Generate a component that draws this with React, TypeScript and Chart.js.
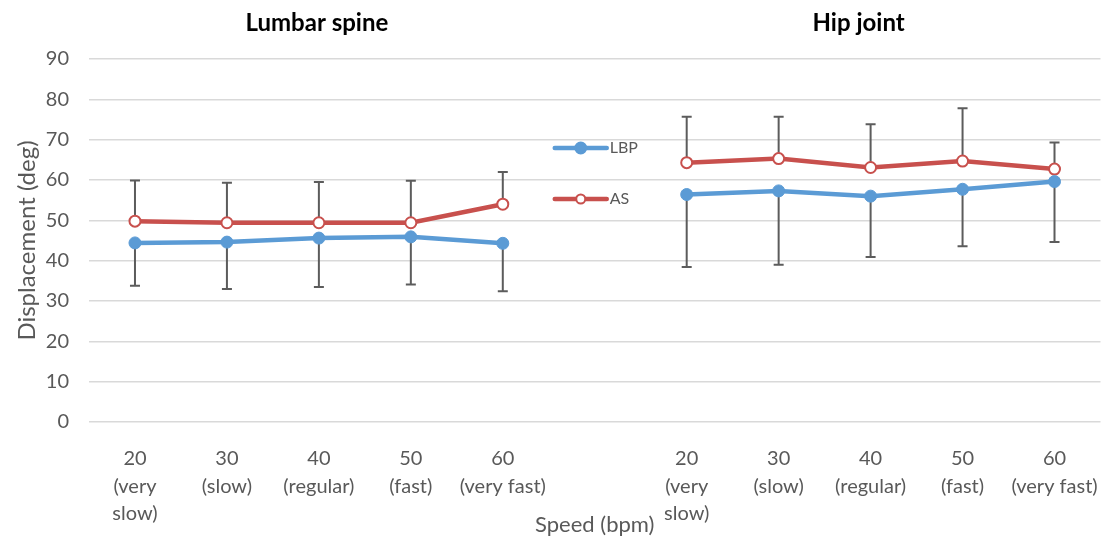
import React, { useEffect, useRef } from "react";
import { Chart, registerables } from "chart.js";

Chart.register(...registerables);

// Speed categories (one array of lines per tick)
const speedLabels: string[][] = [
  ["20", "(very", "slow)"],
  ["30", "(slow)"],
  ["40", "(regular)"],
  ["50", "(fast)"],
  ["60", "(very fast)"],
];

// Lumbar spine means and error bar ends (deg)
const lumbarLBP = [44.4, 44.6, 45.6, 45.9, 44.3];
const lumbarLBPLow = [33.8, 33.0, 33.5, 34.1, 32.4];
const lumbarAS = [49.8, 49.4, 49.4, 49.4, 54.0];
const lumbarASHigh = [59.9, 59.3, 59.5, 59.8, 62.0];

// Hip joint means and error bar ends (deg)
const hipLBP = [56.4, 57.3, 56.0, 57.7, 59.6];
const hipLBPLow = [38.4, 39.0, 40.9, 43.6, 44.6];
const hipAS = [64.3, 65.3, 63.1, 64.7, 62.7];
const hipASHigh = [75.7, 75.7, 73.8, 77.8, 69.3];

const groupTitles = ["Lumbar spine", "Hip joint"];
const seriesNames = ["LBP", "AS"];

const BLUE = "#5b9bd5";
const RED = "#c8504d";
const GRAY_TEXT = "#595959";
const FONT = "Lato, 'Open Sans', sans-serif";

// Both groups share one category axis, separated by an empty slot
const labels = [...speedLabels, [""], ...speedLabels];
const joinGroups = (a: (number | null)[], b: (number | null)[]) => [...a, null, ...b];

const lbpValues = joinGroups(lumbarLBP, hipLBP);
const lbpLow = joinGroups(lumbarLBPLow, hipLBPLow);
const asValues = joinGroups(lumbarAS, hipAS);
const asHigh = joinGroups(lumbarASHigh, hipASHigh);

// Error bars: AS extends upward, LBP extends downward
const errorBars = {
  id: "errorBars",
  beforeDatasetsDraw(chart: any) {
    const { ctx, scales } = chart;
    const xs = scales.x;
    const ys = scales.y;
    const draw = (from: (number | null)[], to: (number | null)[]) => {
      from.forEach((v, i) => {
        const end = to[i];
        if (v == null || end == null) return;
        const px = xs.getPixelForValue(i);
        const y0 = ys.getPixelForValue(v);
        const y1 = ys.getPixelForValue(end);
        ctx.beginPath();
        ctx.moveTo(px, y0);
        ctx.lineTo(px, y1);
        ctx.moveTo(px - 5, y1);
        ctx.lineTo(px + 5, y1);
        ctx.stroke();
      });
    };
    ctx.save();
    ctx.strokeStyle = "#5c5c5c";
    ctx.lineWidth = 2;
    draw(asValues, asHigh);
    draw(lbpValues, lbpLow);
    ctx.restore();
  },
};

// Group titles above each half and the legend in the gap between them
const decorations = {
  id: "decorations",
  afterDraw(chart: any) {
    const { ctx, scales } = chart;
    const xs = scales.x;
    ctx.save();
    ctx.fillStyle = "#000";
    ctx.font = `bold 24px ${FONT}`;
    ctx.textAlign = "center";
    ctx.textBaseline = "middle";
    const lc = (xs.getPixelForValue(0) + xs.getPixelForValue(4)) / 2 - 2;
    const hc = (xs.getPixelForValue(6) + xs.getPixelForValue(10)) / 2 - 12;
    ctx.fillText(groupTitles[0], lc, 23);
    ctx.fillText(groupTitles[1], hc, 23);

    const gx = xs.getPixelForValue(5);
    const items = [
      { name: seriesNames[0], color: BLUE, fill: BLUE, r: 5.5, y: 148 },
      { name: seriesNames[1], color: RED, fill: "#ffffff", r: 4.5, y: 199 },
    ];
    items.forEach((it) => {
      ctx.strokeStyle = it.color;
      ctx.lineWidth = 4.5;
      ctx.lineCap = "round";
      ctx.beginPath();
      ctx.moveTo(gx - 40, it.y);
      ctx.lineTo(gx + 12, it.y);
      ctx.stroke();
      ctx.beginPath();
      ctx.arc(gx - 14, it.y, it.r, 0, Math.PI * 2);
      ctx.fillStyle = it.fill;
      ctx.fill();
      ctx.lineWidth = 2;
      ctx.stroke();
      ctx.fillStyle = GRAY_TEXT;
      ctx.font = `16px ${FONT}`;
      ctx.textAlign = "left";
      ctx.fillText(it.name, gx + 15, it.y);
    });
    ctx.restore();
  },
};

export default function App() {
  const ref = useRef<HTMLCanvasElement | null>(null);

  useEffect(() => {
    if (!ref.current) return;
    const chart = new Chart(ref.current, {
      type: "line",
      data: {
        labels,
        datasets: [
          {
            label: seriesNames[0],
            data: lbpValues,
            borderColor: BLUE,
            backgroundColor: BLUE,
            borderWidth: 4.5,
            pointRadius: 6,
            pointBorderWidth: 1,
            pointBackgroundColor: BLUE,
            pointBorderColor: BLUE,
            spanGaps: false,
            tension: 0,
          },
          {
            label: seriesNames[1],
            data: asValues,
            borderColor: RED,
            backgroundColor: "#ffffff",
            borderWidth: 4.5,
            pointRadius: 5.5,
            pointBorderWidth: 2,
            pointBackgroundColor: "#ffffff",
            pointBorderColor: RED,
            spanGaps: false,
            tension: 0,
          },
        ],
      },
      options: {
        animation: false,
        responsive: false,
        maintainAspectRatio: false,
        layout: { padding: { left: 0, right: 8, top: 59, bottom: 0 } },
        plugins: {
          legend: { display: false },
          title: { display: false },
          tooltip: { enabled: false },
        },
        scales: {
          x: {
            type: "category",
            offset: true,
            grid: { display: false },
            border: { display: false },
            afterFit: (scale: any) => {
              scale.height = 114;
            },
            ticks: {
              autoSkip: false,
              maxRotation: 0,
              minRotation: 0,
              padding: 15,
              color: GRAY_TEXT,
              font: { family: FONT, size: 20, lineHeight: 1.375 },
            },
            title: {
              display: true,
              text: "Speed (bpm)",
              color: GRAY_TEXT,
              font: { family: FONT, size: 22, lineHeight: 1 },
              padding: { top: 0, bottom: 0 },
            },
          },
          y: {
            min: 0,
            max: 90,
            grid: { color: "#d9d9d9", lineWidth: 1.5, drawTicks: false },
            border: { display: false },
            afterFit: (scale: any) => {
              scale.width = 89;
            },
            ticks: {
              stepSize: 10,
              padding: 20,
              color: GRAY_TEXT,
              font: { family: FONT, size: 20 },
            },
            title: {
              display: true,
              text: "Displacement (deg)",
              color: GRAY_TEXT,
              font: { family: FONT, size: 24, lineHeight: 1 },
              padding: { top: 15, bottom: 0 },
            },
          },
        },
      },
      plugins: [errorBars, decorations],
    } as any);
    return () => chart.destroy();
  }, []);

  return (
    <div style={{ position: "absolute", left: 0, top: 0, width: 1113, height: 536, background: "#fff" }}>
      <canvas ref={ref} width={1113} height={536} style={{ display: "block" }} />
    </div>
  );
}
